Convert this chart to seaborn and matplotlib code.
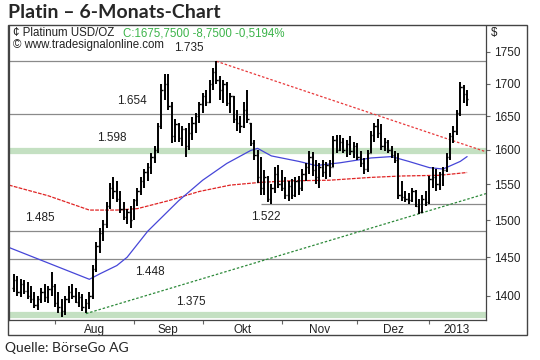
import numpy as np
import pandas as pd
import matplotlib
matplotlib.use('Agg')
import matplotlib.pyplot as plt
from matplotlib.patches import Rectangle
from matplotlib.ticker import FixedLocator, FixedFormatter, NullLocator
import seaborn as sns

# trading days shown in the chart
dates = pd.bdate_range('2012-07-16', periods=133)

opens = [1410, 1420, 1405, 1415, 1406, 1400, 1395, 1388, 1396, 1405,
         1398, 1408, 1412, 1390, 1385, 1380, 1395, 1405, 1400, 1392,
         1398, 1385, 1390, 1400, 1435, 1465, 1482, 1495, 1520, 1545,
         1540, 1530, 1515, 1505, 1512, 1505, 1528, 1540, 1555, 1568,
         1575, 1590, 1600, 1635, 1690, 1700, 1665, 1620, 1638, 1618,
         1630, 1605, 1625, 1640, 1650, 1668, 1680, 1672, 1700, 1718,
         1705, 1690, 1700, 1670, 1680, 1645, 1640, 1635, 1660, 1640,
         1610, 1592, 1560, 1545, 1560, 1530, 1545, 1565, 1550, 1545,
         1535, 1548, 1535, 1555, 1545, 1565, 1575, 1590, 1570, 1560,
         1575, 1568, 1578, 1575, 1615, 1600, 1612, 1600, 1608, 1598,
         1605, 1590, 1580, 1572, 1595, 1622, 1635, 1625, 1605, 1612,
         1600, 1592, 1585, 1535, 1532, 1530, 1528, 1540, 1520, 1512,
         1530, 1525, 1558, 1560, 1550, 1565, 1570, 1590, 1620, 1628,
         1655, 1695, 1684]
highs = [1428, 1425, 1422, 1420, 1418, 1412, 1405, 1400, 1410, 1415,
         1412, 1430, 1415, 1405, 1395, 1400, 1412, 1415, 1410, 1405,
         1402, 1395, 1405, 1440, 1470, 1490, 1500, 1525, 1552, 1560,
         1555, 1540, 1525, 1515, 1520, 1530, 1545, 1560, 1572, 1580,
         1595, 1605, 1640, 1700, 1715, 1715, 1672, 1645, 1640, 1635,
         1632, 1640, 1648, 1655, 1672, 1685, 1690, 1705, 1725, 1735,
         1712, 1705, 1702, 1685, 1680, 1660, 1650, 1672, 1690, 1640,
         1615, 1600, 1590, 1570, 1562, 1550, 1575, 1578, 1570, 1560,
         1555, 1558, 1560, 1562, 1572, 1580, 1598, 1596, 1585, 1580,
         1585, 1582, 1585, 1620, 1622, 1622, 1618, 1615, 1620, 1612,
         1610, 1598, 1588, 1600, 1628, 1640, 1645, 1638, 1618, 1615,
         1605, 1598, 1595, 1555, 1540, 1538, 1545, 1542, 1530, 1535,
         1540, 1562, 1575, 1572, 1568, 1575, 1595, 1625, 1635, 1660,
         1702, 1698, 1690]
lows = [1405, 1400, 1398, 1402, 1395, 1390, 1384, 1382, 1390, 1392,
        1390, 1400, 1385, 1378, 1373, 1375, 1390, 1395, 1390, 1385,
        1380, 1378, 1383, 1395, 1430, 1455, 1472, 1490, 1515, 1530,
        1525, 1510, 1500, 1495, 1490, 1500, 1520, 1535, 1545, 1555,
        1565, 1580, 1595, 1630, 1675, 1660, 1610, 1612, 1612, 1605,
        1590, 1600, 1615, 1625, 1640, 1655, 1665, 1670, 1690, 1700,
        1675, 1670, 1665, 1655, 1640, 1628, 1625, 1632, 1640, 1605,
        1585, 1552, 1535, 1535, 1525, 1523, 1538, 1545, 1540, 1530,
        1527, 1530, 1532, 1535, 1540, 1555, 1565, 1562, 1550, 1545,
        1560, 1558, 1560, 1575, 1595, 1598, 1595, 1590, 1592, 1588,
        1585, 1575, 1565, 1568, 1595, 1612, 1618, 1600, 1598, 1595,
        1588, 1580, 1530, 1527, 1525, 1522, 1525, 1518, 1508, 1510,
        1520, 1522, 1545, 1540, 1542, 1548, 1568, 1585, 1610, 1622,
        1650, 1670, 1665]
closes = [1420, 1405, 1415, 1406, 1400, 1395, 1388, 1396, 1405, 1398,
          1408, 1412, 1390, 1385, 1380, 1395, 1405, 1400, 1392, 1398,
          1385, 1390, 1400, 1435, 1465, 1482, 1495, 1520, 1545, 1540,
          1530, 1515, 1505, 1512, 1500, 1528, 1540, 1555, 1568, 1575,
          1590, 1600, 1635, 1690, 1700, 1665, 1620, 1638, 1618, 1630,
          1605, 1625, 1640, 1650, 1668, 1680, 1672, 1700, 1718, 1705,
          1690, 1700, 1670, 1680, 1645, 1640, 1635, 1660, 1645, 1610,
          1592, 1560, 1545, 1560, 1530, 1545, 1565, 1550, 1545, 1535,
          1548, 1535, 1555, 1545, 1565, 1575, 1590, 1570, 1560, 1575,
          1568, 1578, 1575, 1615, 1600, 1612, 1600, 1608, 1598, 1605,
          1590, 1580, 1572, 1595, 1622, 1635, 1625, 1605, 1612, 1600,
          1592, 1585, 1535, 1532, 1530, 1528, 1540, 1520, 1512, 1530,
          1525, 1558, 1560, 1550, 1565, 1570, 1590, 1620, 1628, 1655,
          1695, 1684, 1675.75]

# moving averages, read at a few points (bar index, price)
ma_blue_idx = [-1.4, 22, 25, 30, 33, 39, 48, 55, 62, 69, 71, 75, 83, 88, 95, 104, 110, 115, 121, 125, 130, 132]
ma_blue_val = [1463, 1421, 1428, 1439, 1450, 1485, 1527, 1556, 1580, 1599, 1602, 1591, 1583, 1577, 1581, 1588, 1590, 1583, 1574, 1572, 1583, 1590]
ma_red_idx = [-1.4, 10, 22, 30, 36, 45, 54, 63, 72, 80, 92, 104, 113, 124, 132]
ma_red_val = [1549, 1534, 1514, 1514, 1516, 1527, 1540, 1549, 1553, 1555, 1556, 1560, 1562, 1563, 1567]

# trend lines
red_tl_idx = [59, 137.5]
red_tl_val = [1735, 1597]
green_tl_idx = [21, 137.5]
green_tl_val = [1377, 1537]

# horizontal levels
levels = [1735, 1654, 1598, 1522, 1485, 1448, 1375]
level_labels = ['1.735', '1.654', '1.598', '1.522', '1.485', '1.448', '1.375']
level_label_x = [51, 34.5, 28.5, 73.5, 7.5, 39.5, 51.5]
level_label_above = [True, True, True, False, True, False, True]
level_start = [None, None, None, 72, None, None, None]

month_labels = ['Aug', 'Sep', 'Okt', 'Nov', 'Dez', '2013']

sns.set_theme(style='white')
plt.rcParams['font.family'] = ['Liberation Sans', 'DejaVu Sans']

fig = plt.figure(figsize=(5.4, 3.6), dpi=100)
ax = fig.add_axes([9 / 540, 40 / 360, 477 / 540, 294 / 360])
ax.set_yscale('log')

n = len(closes)
x = np.arange(n)

# levels
for lv, st in zip(levels, level_start):
    x0 = -1.4 if st is None else st
    if lv in (1598, 1375):
        ax.hlines(lv, x0, 137.5, color='#c4e0c2', lw=4.5, zorder=1)
    else:
        ax.hlines(lv, x0, 137.5, color='#8a8a8a', lw=0.9, zorder=1)

for lv, lab, lx, above in zip(levels, level_labels, level_label_x, level_label_above):
    ax.annotate(lab, (lx, lv), xytext=(0, 5 if above else -5), textcoords='offset points',
                ha='center', va='bottom' if above else 'top', fontsize=8.5, color='#222222')

# trend lines
sns.lineplot(x=red_tl_idx, y=red_tl_val, ax=ax, color='#e8383a', lw=0.9,
             linestyle=(0, (2, 1.5)), zorder=2)
sns.lineplot(x=green_tl_idx, y=green_tl_val, ax=ax, color='#2d8a3a', lw=0.9,
             linestyle=(0, (2, 1.5)), zorder=2)

# moving averages
sns.lineplot(x=ma_red_idx, y=ma_red_val, ax=ax, color='#e02424', lw=0.9,
             linestyle=(0, (3, 1)), zorder=2)
sns.lineplot(x=ma_blue_idx, y=ma_blue_val, ax=ax, color='#4646d8', lw=0.9, zorder=2)

# OHLC bars
ax.vlines(x, lows, highs, color='black', lw=1.4, zorder=3)
ax.hlines(opens, x - 0.4, x, color='black', lw=1.0, zorder=3)
ax.hlines(closes, x, x + 0.4, color='black', lw=1.0, zorder=3)

ax.set_xlim(-1.4, 137.5)
ax.set_ylim(1369, 1792)

# y axis on the right
ax.yaxis.tick_right()
yt = [1400, 1450, 1500, 1550, 1600, 1650, 1700, 1750]
ax.yaxis.set_major_locator(FixedLocator(yt))
ax.yaxis.set_major_formatter(FixedFormatter([str(v) for v in yt]))
ax.yaxis.set_minor_locator(NullLocator())
ax.tick_params(axis='y', which='major', right=True, length=3, width=0.8, pad=3,
               labelsize=8.5, color='#666666', labelcolor='#222222')

# month ticks
month_start = [i for i in range(1, n) if dates[i].month != dates[i - 1].month]
mids = [(a + b) / 2 for a, b in zip(month_start, month_start[1:] + [n + 4])]
ax.set_xticks(month_start)
ax.set_xticklabels([''] * len(month_start))
ax.set_xticks(mids, minor=True)
ax.set_xticklabels(month_labels, minor=True)
ax.tick_params(axis='x', which='major', bottom=True, length=3, width=0.8, color='#666666')
ax.tick_params(axis='x', which='minor', bottom=True, length=0, pad=3, labelsize=8.5, labelcolor='#222222')
ax.set_xlabel('')
ax.set_ylabel('')

for side in ['left', 'bottom', 'right', 'top']:
    ax.spines[side].set_color('#444444')
    ax.spines[side].set_linewidth(0.9)
ax.spines['top'].set_visible(False)

# outer frame
fig.add_artist(Rectangle((8 / 540, 25 / 360), 519 / 540, 310 / 360, transform=fig.transFigure,
                         fill=False, ec='#444444', lw=1.0))

# header inside frame
fig.text(13 / 540, 1 - 33 / 360, '¢ Platinum USD/OZ', fontsize=8.3, va='center', color='#222222')
fig.text(123 / 540, 1 - 33 / 360, 'C:1675,7500 -8,7500 -0,5194%', fontsize=8.3, va='center', color='#3cb44a')
fig.text(13 / 540, 1 - 45 / 360, '© www.tradesignalonline.com', fontsize=8.3, va='center', color='#222222')
fig.text(491 / 540, 1 - 33 / 360, '$', fontsize=8.3, va='center', color='#222222')

fig.text(8 / 540, 1 - 13 / 360, 'Platin – 6-Monats-Chart', fontsize=14, fontweight='bold',
         va='center', family='Lato')
fig.text(5 / 540, 1 - 348 / 360, 'Quelle: BörseGo AG', fontsize=10, va='center', family='Lato')

fig.savefig('out.png', dpi=100)
